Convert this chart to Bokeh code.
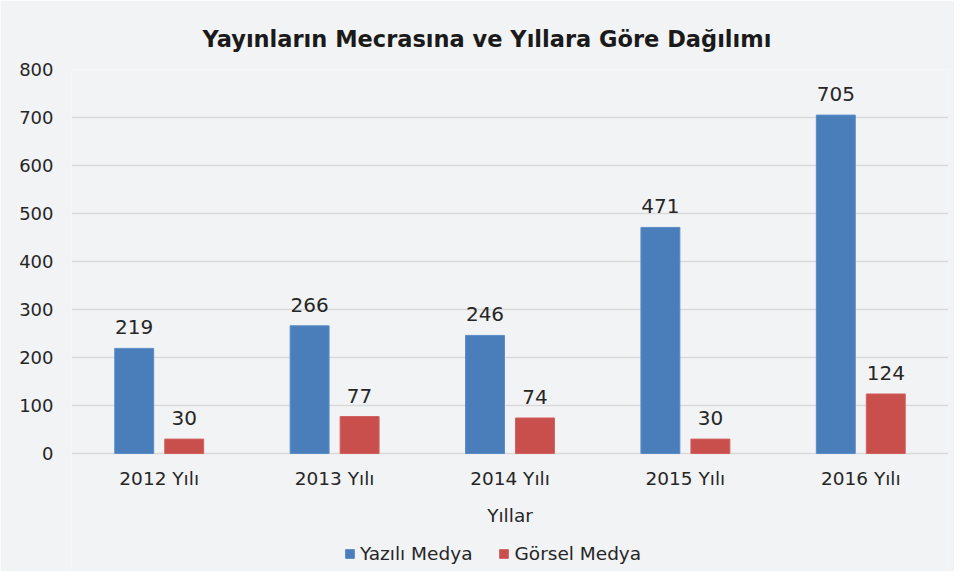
from bokeh.plotting import figure
from bokeh.models import (ColumnDataSource, Range1d, FixedTicker, LabelSet, Legend,
                          LegendItem)
from bokeh.core.properties import value
from bokeh.transform import dodge
from bokeh.embed import file_html
from bokeh.resources import INLINE

years = ["2012 Yılı", "2013 Yılı", "2014 Yılı", "2015 Yılı", "2016 Yılı"]
yazili = [219, 266, 246, 471, 705]
gorsel = [30, 77, 74, 30, 124]
y_ticks = [0, 100, 200, 300, 400, 500, 600, 700, 800]

title_text = "Yayınların Mecrasına ve Yıllara Göre Dağılımı"
x_label = "Yıllar"
series_names = ["Yazılı Medya", "Görsel Medya"]

FONT = "DejaVu Sans"
BG = "#f2f3f5"
BLUE = "#4a7ebb"
RED = "#c84f4c"
TXT = "#262626"

W, H = 954, 571
F_LEFT, F_RIGHT, F_TOP = 71, 948, 69
ZERO_PX = 453                      # pixel row of value 0
PX_PER_UNIT = (ZERO_PX - F_TOP) / y_ticks[-1]
y_bottom = -(H - ZERO_PX) / PX_PER_UNIT   # frame runs down to figure bottom

src = ColumnDataSource(dict(
    x=years, yazili=yazili, gorsel=gorsel, zero=[0] * len(years),
    yazili_t=[str(v) for v in yazili], gorsel_t=[str(v) for v in gorsel],
))

p = figure(x_range=years, y_range=Range1d(y_bottom, y_ticks[-1]), width=W, height=H,
           output_backend="svg", toolbar_location=None,
           background_fill_color=BG, border_fill_color=BG,
           min_border_left=F_LEFT, min_border_right=W - F_RIGHT, min_border_top=F_TOP,
           min_border_bottom=0)
p.outline_line_color = None

p.title.text = title_text
p.title.text_font = FONT
p.title.text_font_size = "22.5px"
p.title.text_font_style = "bold"
p.title.text_color = "#1a1a1a"
p.title.align = "left"
p.title.offset = 131
p.title.standoff = 36

off = 0.1425
w = 0.222
r1 = p.vbar(x=dodge("x", -off, range=p.x_range), top="yazili", width=w, source=src,
            fill_color=BLUE, line_color="#5a8cc8", line_width=1)
r2 = p.vbar(x=dodge("x", off, range=p.x_range), top="gorsel", width=w, source=src,
            fill_color=RED, line_color="#d26160", line_width=1)

# value labels above bars
for col, d in (("yazili", -off), ("gorsel", off)):
    p.add_layout(LabelSet(x=dodge("x", d, range=p.x_range), y=col, text=col + "_t",
                          source=src, text_align="center", text_baseline="alphabetic",
                          y_offset=14, text_font=value(FONT), text_font_size=value("20px"),
                          text_color=TXT))

# category labels under the zero line
p.add_layout(LabelSet(x="x", y="zero", text="x", source=src, text_align="center",
                      text_baseline="alphabetic", y_offset=-31, text_font=value(FONT),
                      text_font_size=value("18.5px"), text_color=TXT))

# axis title
xl_src = ColumnDataSource(dict(x=[years[len(years) // 2]], y=[0], t=[x_label]))
p.add_layout(LabelSet(x="x", y="y", text="t", source=xl_src, text_align="center",
                      text_baseline="alphabetic", y_offset=-68, text_font=value(FONT),
                      text_font_size=value("18.5px"), text_color=TXT))

p.xaxis.visible = False
p.yaxis.ticker = FixedTicker(ticks=y_ticks)
ax = p.yaxis[0]
ax.axis_line_color = None
ax.major_tick_line_color = None
ax.minor_tick_line_color = None
ax.major_tick_out = 0
ax.major_tick_in = 0
ax.major_label_text_font = FONT
ax.major_label_text_font_size = "18px"
ax.major_label_text_color = TXT
ax.major_label_standoff = 18

p.xgrid.grid_line_color = None
p.ygrid.grid_line_color = "#d9d9d9"
p.ygrid.grid_line_width = 1.5

legend = Legend(items=[LegendItem(label=series_names[0], renderers=[r1]),
                       LegendItem(label=series_names[1], renderers=[r2])],
                orientation="horizontal", location=(344 - F_LEFT, 7),
                label_text_font=FONT, label_text_font_size="18.5px", label_text_color=TXT,
                glyph_width=11, glyph_height=11, label_standoff=5, spacing=26,
                padding=0, margin=0, border_line_color=None, background_fill_alpha=0)
p.add_layout(legend)

open("out.html", "w").write(file_html(p, INLINE))
